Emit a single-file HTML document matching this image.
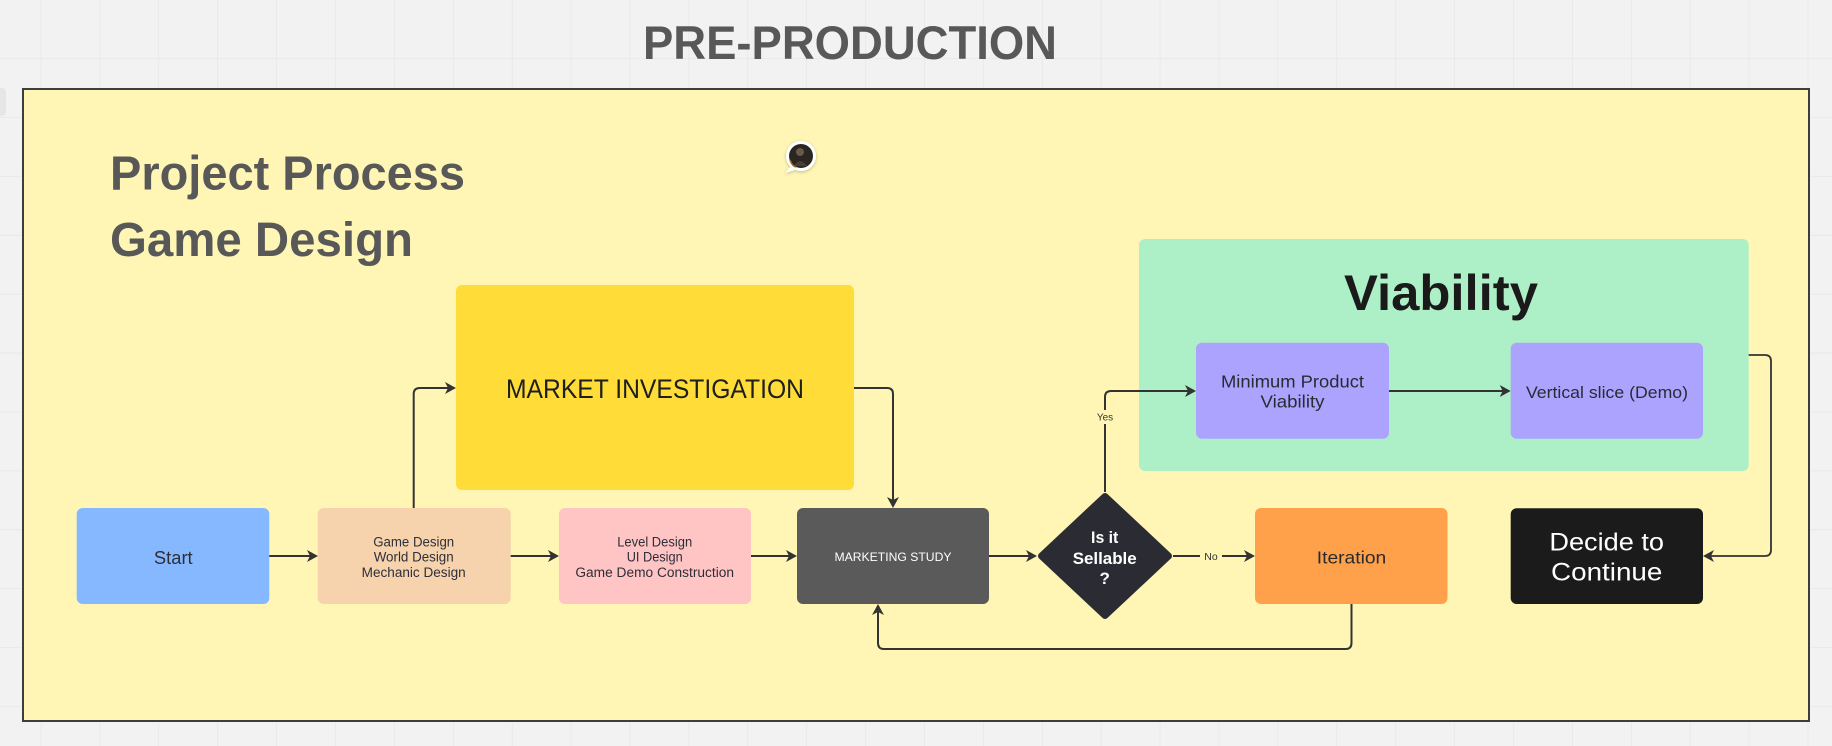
<!DOCTYPE html>
<html>
<head>
<meta charset="utf-8">
<style>
  html, body { margin: 0; padding: 0; background: #f2f2f2; }
  body { width: 1832px; height: 746px; overflow: hidden; }
  svg { display: block; }
  text { font-family: "Liberation Sans", Arial, sans-serif; }
</style>
</head>
<body>
<svg width="1832" height="746" viewBox="0 0 1832 746" xmlns="http://www.w3.org/2000/svg">
  <defs>
    <pattern id="grid" x="40.7" y="0" width="58.9" height="58.9" patternUnits="userSpaceOnUse">
      <path d="M0 0 V58.9" stroke="#e4e4e4" stroke-width="1.2" fill="none"/>
      <path d="M0 58.9 H58.9" stroke="#e4e4e4" stroke-width="1.2" fill="none"/>
    </pattern>
    <filter id="sh" x="-50%" y="-50%" width="200%" height="200%">
      <feDropShadow dx="0" dy="1" stdDeviation="1.5" flood-color="#000" flood-opacity="0.25"/>
    </filter>
  </defs>

  <!-- background -->
  <rect x="0" y="0" width="1832" height="746" fill="#f2f2f2"/>
  <rect x="0" y="0" width="1832" height="746" fill="url(#grid)"/>

  <!-- faint left blob -->
  <rect x="-10" y="88" width="16" height="28" rx="4" fill="#e6e6e6"/>

  <!-- Title -->
  <text x="643" y="59" font-size="47.5" font-weight="bold" fill="#585858" textLength="414" lengthAdjust="spacingAndGlyphs">PRE-PRODUCTION</text>

  <!-- Frame -->
  <rect x="23" y="89" width="1786" height="632" fill="#fff6b5" stroke="#3d3d3d" stroke-width="2"/>

  <!-- Project title -->
  <text x="110" y="189.3" font-size="48" font-weight="bold" fill="#585858" textLength="355" lengthAdjust="spacingAndGlyphs">Project Process</text>
  <text x="110" y="256" font-size="48" font-weight="bold" fill="#585858" textLength="303" lengthAdjust="spacingAndGlyphs">Game Design</text>

  <!-- avatar -->
  <g filter="url(#sh)">
    <path d="M790 167 L785 173 L795 170 Z" fill="#ffffff"/>
    <circle cx="801" cy="156" r="15" fill="#ffffff"/>
  </g>
  <circle cx="801" cy="156" r="12" fill="#2a2622"/>
  <circle cx="800" cy="152" r="4" fill="#6a5a48"/>
  <path d="M794 166 Q800 156 807 166 Z" fill="#4a3d30"/>
  <path d="M790 160 Q792 166 796 167" stroke="#a06a30" stroke-width="1.5" fill="none"/>

  <!-- Viability group -->
  <rect x="1139" y="239" width="609.7" height="232" rx="6" fill="#adf0c7"/>
  <text x="1344" y="310" font-size="50" font-weight="bold" fill="#1a1a1a" textLength="194" lengthAdjust="spacingAndGlyphs">Viability</text>

  <!-- MARKET INVESTIGATION -->
  <rect x="456" y="285" width="398" height="205" rx="6" fill="#ffdc37"/>
  <text x="506" y="398" font-size="26.5" fill="#1e1e1e" textLength="298" lengthAdjust="spacingAndGlyphs">MARKET INVESTIGATION</text>

  <!-- Purple boxes -->
  <rect x="1196" y="342.7" width="193" height="96" rx="6" fill="#aca3ff"/>
  <text x="1292.5" y="387.3" font-size="17.5" fill="#2a2a33" text-anchor="middle" textLength="143" lengthAdjust="spacingAndGlyphs">Minimum Product</text>
  <text x="1292.5" y="407.3" font-size="17.5" fill="#2a2a33" text-anchor="middle" textLength="64" lengthAdjust="spacingAndGlyphs">Viability</text>

  <rect x="1510.7" y="342.7" width="192.3" height="96" rx="6" fill="#aca3ff"/>
  <text x="1607" y="398" font-size="17" fill="#2a2a33" text-anchor="middle" textLength="162" lengthAdjust="spacingAndGlyphs">Vertical slice (Demo)</text>

  <!-- Row nodes -->
  <rect x="76.7" y="508" width="192.6" height="96" rx="6" fill="#86b8ff"/>
  <text x="173.3" y="563.8" font-size="18" fill="#2e2e38" text-anchor="middle" textLength="38.7" lengthAdjust="spacingAndGlyphs">Start</text>

  <rect x="317.7" y="508" width="193" height="96" rx="6" fill="#f6d3ad"/>
  <text x="413.7" y="546.6" font-size="13.5" fill="#2e2e38" text-anchor="middle" textLength="81" lengthAdjust="spacingAndGlyphs">Game Design</text>
  <text x="413.7" y="561.6" font-size="13.5" fill="#2e2e38" text-anchor="middle" textLength="80" lengthAdjust="spacingAndGlyphs">World Design</text>
  <text x="413.7" y="576.9" font-size="13.5" fill="#2e2e38" text-anchor="middle" textLength="104" lengthAdjust="spacingAndGlyphs">Mechanic Design</text>

  <rect x="559" y="508" width="192" height="96" rx="6" fill="#ffc4c4"/>
  <text x="654.7" y="546.6" font-size="13.5" fill="#2e2e38" text-anchor="middle" textLength="75" lengthAdjust="spacingAndGlyphs">Level Design</text>
  <text x="654.7" y="561.6" font-size="13.5" fill="#2e2e38" text-anchor="middle" textLength="56" lengthAdjust="spacingAndGlyphs">UI Design</text>
  <text x="654.7" y="576.9" font-size="13.5" fill="#2e2e38" text-anchor="middle" textLength="158.7" lengthAdjust="spacingAndGlyphs">Game Demo Construction</text>

  <rect x="797" y="508" width="192" height="96" rx="6" fill="#5a5a5a"/>
  <text x="893" y="561" font-size="12" fill="#ffffff" text-anchor="middle" textLength="117" lengthAdjust="spacingAndGlyphs">MARKETING STUDY</text>

  <!-- Diamond -->
  <polygon points="1105,496.5 1168.5,556 1105,615.5 1041.5,556" fill="#2b2c33" stroke="#2b2c33" stroke-width="7" stroke-linejoin="round"/>
  <text x="1104.7" y="542.8" font-size="17" font-weight="bold" fill="#ffffff" text-anchor="middle" textLength="27.3" lengthAdjust="spacingAndGlyphs">Is it</text>
  <text x="1104.7" y="563.8" font-size="17" font-weight="bold" fill="#ffffff" text-anchor="middle" textLength="64" lengthAdjust="spacingAndGlyphs">Sellable</text>
  <text x="1104.7" y="583.8" font-size="17" font-weight="bold" fill="#ffffff" text-anchor="middle">?</text>

  <rect x="1255" y="508" width="192.5" height="96" rx="6" fill="#ffa04b"/>
  <text x="1351.5" y="563.3" font-size="17.5" fill="#2a2a2a" text-anchor="middle" textLength="69.5" lengthAdjust="spacingAndGlyphs">Iteration</text>

  <rect x="1510.7" y="508.3" width="192.3" height="95.7" rx="6" fill="#1b1b1b"/>
  <text x="1606.7" y="550.7" font-size="25" fill="#ffffff" text-anchor="middle" textLength="114.7" lengthAdjust="spacingAndGlyphs">Decide to</text>
  <text x="1606.7" y="580.7" font-size="25" fill="#ffffff" text-anchor="middle" textLength="111.3" lengthAdjust="spacingAndGlyphs">Continue</text>

  <!-- Connectors -->
  <g stroke="#333333" stroke-width="2" fill="none">
    <path d="M269.3 556 H312"/>
    <path d="M510.7 556 H553"/>
    <path d="M751 556 H791"/>
    <path d="M989 556 H1031"/>
    <path d="M1173 556 H1200"/>
    <path d="M1222 556 H1249"/>
    <!-- Game design up to market investigation -->
    <path d="M413.7 508 V394 Q413.7 388 419.7 388 H450"/>
    <!-- market investigation down to marketing -->
    <path d="M854 388 H887 Q893 388 893 394 V502"/>
    <!-- iteration loop back -->
    <path d="M1351.5 604 V643 Q1351.5 649 1345.5 649 H884 Q878 649 878 643 V610"/>
    <!-- yes -->
    <path d="M1105 492 V424"/>
    <path d="M1105 410 V397 Q1105 391 1111 391 H1190"/>
    <!-- mpv -> vs -->
    <path d="M1389 391 H1504.7"/>
    <!-- viability -> decide -->
    <path d="M1748.7 355 H1765 Q1771 355 1771 361 V550 Q1771 556 1765 556 H1709" stroke-width="1.8"/>
  </g>

  <!-- Arrowheads -->
  <g fill="#333333">
    <path d="M318 556 L307 550 L310 556 L307 562 Z"/>
    <path d="M559 556 L548 550 L551 556 L548 562 Z"/>
    <path d="M797 556 L786 550 L789 556 L786 562 Z"/>
    <path d="M1037 556 L1026 550 L1029 556 L1026 562 Z"/>
    <path d="M1255 556 L1244 550 L1247 556 L1244 562 Z"/>
    <path d="M456 388 L445 382 L448 388 L445 394 Z"/>
    <path d="M893 508 L887 497 L893 500 L899 497 Z"/>
    <path d="M878 604 L872 615 L878 612 L884 615 Z"/>
    <path d="M1196 391 L1185 385 L1188 391 L1185 397 Z"/>
    <path d="M1510.7 391 L1499.7 385 L1502.7 391 L1499.7 397 Z"/>
    <path d="M1703 556 L1714 550 L1711 556 L1714 562 Z"/>
  </g>

  <!-- connector labels -->
  <text x="1211" y="560" font-size="10.5" fill="#333333" text-anchor="middle">No</text>
  <text x="1105" y="420.3" font-size="10" fill="#333333" text-anchor="middle">Yes</text>
</svg>
</body>
</html>
